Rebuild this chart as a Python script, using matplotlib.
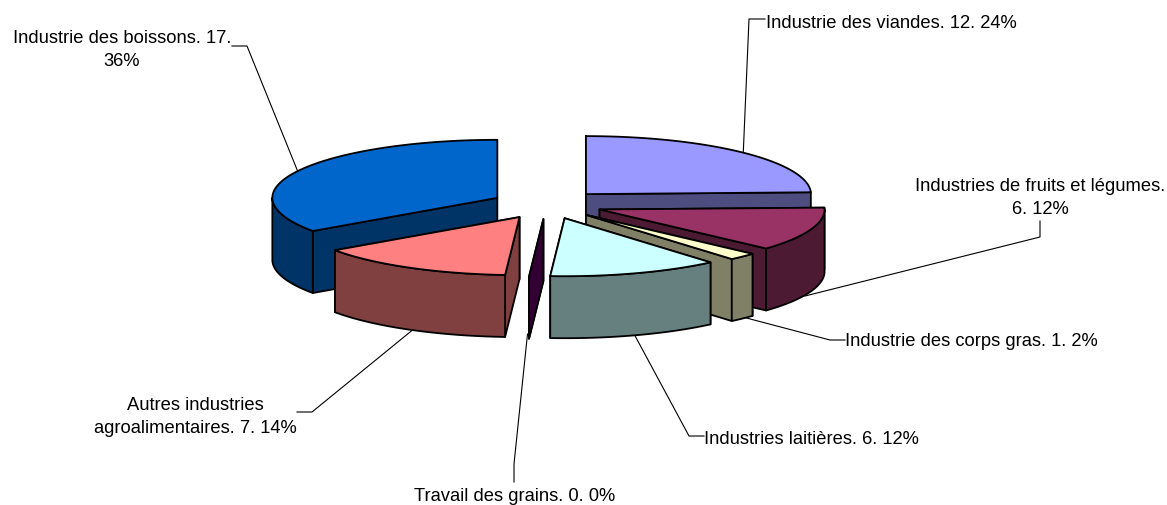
import numpy as np
import matplotlib
matplotlib.use('Agg')
import matplotlib.pyplot as plt
from matplotlib.patches import Polygon

plt.rcParams['font.family'] = ['Liberation Sans', 'DejaVu Sans']

# values in chart order, clockwise from the top
labels = ['Industrie des viandes. 12. 24%', 'Industries de fruits et légumes.\n6. 12%',
          'Industrie des corps gras. 1. 2%', 'Industries laitières. 6. 12%',
          'Travail des grains. 0. 0%', 'Autres industries\nagroalimentaires. 7. 14%',
          'Industrie des boissons. 17.\n36%']
values = [12, 6, 1, 6, 0, 7, 17]
top_colors = ['#9999FF', '#993366', '#FFFFCC', '#CCFFFF', '#660066', '#FF8080', '#0066CC']
side_colors = ['#4D4D80', '#4D1A33', '#808066', '#668080', '#330033', '#804040', '#003366']

# geometry of the pie, in pixels
W, H = 1167, 506
CX, CY = 547, 205.5
RX, RY = 225, 58
DEPTH = 62
EXPLODE = 56

label_pos = [(766, 23, 'left'), (1040, 198, 'center'), (845, 342, 'left'), (704, 439.5, 'left'),
             (515, 497, 'center'), (195, 417, 'center'), (122, 50, 'center')]
leaders = [[(765, 20), (749, 20), (743, 160)],
           [(1040, 222), (1040, 238), (805, 297)],
           [(845, 341), (830, 341), (735, 316)],
           [(704, 437), (689, 437), (633, 333)],
           [(514, 483), (514, 465), (527.5, 335)],
           [(297, 413), (312, 413), (415, 329)],
           [(232, 47), (247, 47), (298, 173)]]


def rim(ax0, ay0, a0, a1):
    t = np.radians(np.linspace(a0, a1, max(int(abs(a1 - a0)) + 2, 2)))
    return np.column_stack([ax0 + RX * np.sin(t), ay0 - RY * np.cos(t)])


def down(pts):
    return pts + np.array([0, DEPTH])


fig = plt.figure(figsize=(W / 100, H / 100), dpi=100)
ax = fig.add_axes([0, 0, 1, 1])
ax.set_xlim(0, W)
ax.set_ylim(H, 0)
ax.axis('off')

edges = np.cumsum([0] + values) / sum(values) * 360
slices = []
for i in range(len(values)):
    a0, a1 = edges[i], edges[i + 1]
    mid = (a0 + a1) / 2
    slices.append((abs(mid - 180), i, a0, a1, mid))

# back to front
for _, i, a0, a1, mid in sorted(slices, reverse=True):
    x0 = CX + EXPLODE * np.sin(np.radians(mid))
    y0 = CY - EXPLODE * RY / RX * np.cos(np.radians(mid))
    apex = np.array([[x0, y0]])
    arc = rim(x0, y0, a0, a1)
    style = dict(edgecolor='black', linewidth=1.3, joinstyle='round', zorder=2)

    # the two cut faces, the one further back first
    walls = sorted([arc[0], arc[-1]], key=lambda p: p[1])
    for p in walls:
        q = np.vstack([apex, [p]])
        ax.add_patch(Polygon(np.vstack([q, down(q)[::-1]]), facecolor=side_colors[i], **style))

    # outer wall, only the part facing the viewer
    f0, f1 = max(a0, 90), min(a1, 270)
    if f1 > f0:
        front = rim(x0, y0, f0, f1)
        ax.add_patch(Polygon(np.vstack([front, down(front)[::-1]]), facecolor=side_colors[i], **style))

    if a1 > a0:
        ax.add_patch(Polygon(np.vstack([apex, arc]), facecolor=top_colors[i], **style))

for pts in leaders:
    xs, ys = zip(*pts)
    ax.plot(xs, ys, color='black', linewidth=0.8, zorder=1)

for text, (x, y, ha) in zip(labels, label_pos):
    ax.text(x, y, text, ha=ha, va='center', fontsize=13.2, color='black', linespacing=1.5, zorder=5)

fig.savefig('out.png', dpi=100)
